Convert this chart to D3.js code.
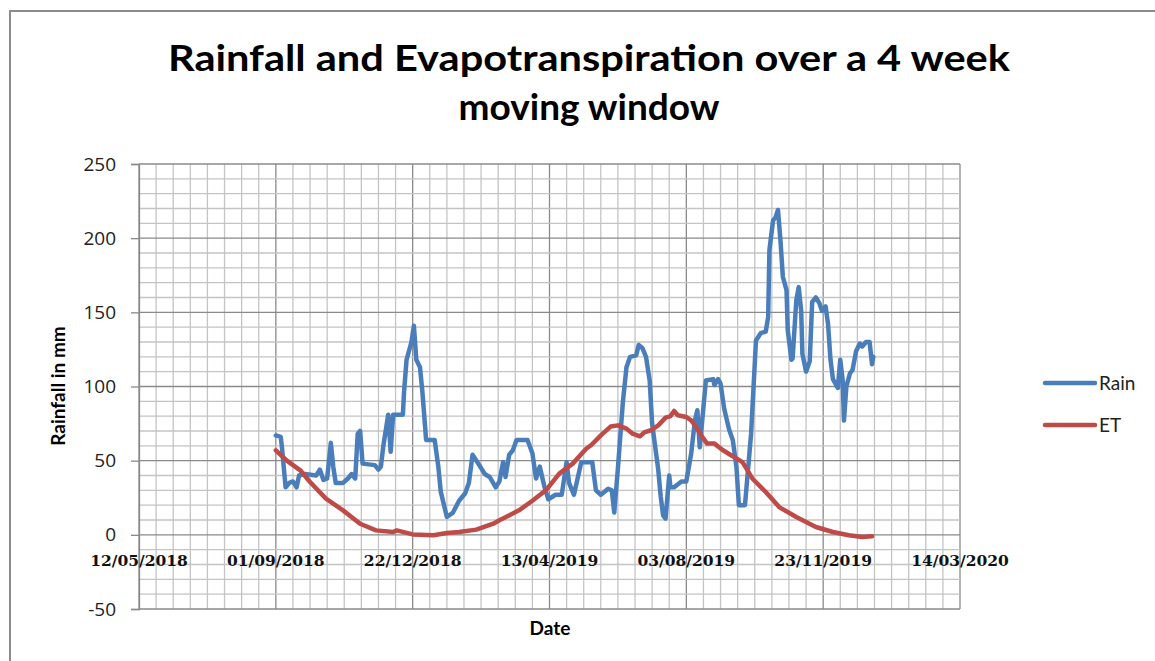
<!DOCTYPE html>
<html>
<head>
<meta charset="utf-8">
<script src="https://cdn.jsdelivr.net/npm/d3@7"></script>
<style>
body { margin: 0; background: #fff; }
text { font-family: Lato, "Open Sans", sans-serif; }
</style>
</head>
<body>
<svg id="chart" width="1155" height="661"></svg>
<script>
// days counted from 12/05/2018
const rainDays = [112, 116, 117, 120, 123, 126, 129, 131, 136, 145, 148, 151, 154, 157, 159, 161, 167, 171, 174, 177,
    179, 181, 183, 193, 196, 198, 200, 204, 206, 208, 216, 217, 219, 223, 225, 227, 230, 232, 235, 242,
    245, 247, 252, 257, 262, 267, 270, 273, 277, 283, 287, 292, 295, 298, 300, 303, 306, 309, 318, 322,
    325, 328, 332, 335, 341, 346, 350, 352, 356, 359, 362, 371, 374, 378, 384, 387, 389, 392, 396, 399,
    402, 407, 409, 412, 415, 418, 420, 425, 427, 429, 431, 434, 435, 438, 444, 448, 452, 455, 457, 459,
    461, 464, 470, 471, 474, 476, 479, 483, 486, 489, 491, 496, 501, 505, 509, 513, 515, 516, 519, 521,
    523, 525, 527, 530, 531, 534, 535, 538, 540, 542, 543, 546, 549, 551, 554, 557, 559, 562, 564, 566,
    568, 572, 574, 576, 577, 579, 582, 584, 587, 590, 592, 595, 598, 600, 601];
const rainValues = [67, 66, 59, 32, 35, 36, 32, 40, 41, 40, 44, 37, 38, 62, 46, 35, 35, 38, 41, 38,
    68, 70, 48, 47, 44, 46, 60, 81, 56, 81, 81, 97, 118, 130, 141, 118, 113, 96, 64, 64,
    46, 29, 12, 15, 23, 28, 35, 54, 49, 41, 39, 32, 36, 49, 39, 54, 57, 64, 64, 55,
    38, 46, 32, 24, 27, 27, 49, 35, 27, 38, 49, 49, 30, 27, 31, 30, 15, 45, 89, 113,
    120, 121, 128, 126, 120, 104, 75, 44, 26, 13, 11, 40, 32, 32, 36, 36, 55, 77, 84, 59,
    77, 104, 105, 101, 105, 102, 85, 71, 64, 46, 20, 20, 68, 131, 136, 137, 147, 192, 212, 214,
    219, 199, 174, 165, 138, 118, 119, 158, 167, 151, 122, 110, 117, 157, 160, 156, 151, 154, 142, 118,
    105, 99, 118, 104, 77, 100, 109, 111, 124, 129, 127, 130, 130, 115, 120];

const etDays = [112, 121, 132, 140, 153, 167, 181, 194, 208, 211, 224, 241, 252, 262, 276, 290, 295, 311, 322, 333,
    344, 355, 366, 370, 378, 386, 392, 399, 404, 410, 414, 419, 425, 431, 435, 438, 441, 448, 452, 456,
    461, 465, 471, 478, 486, 494, 502, 513, 524, 538, 554, 568, 581, 592, 600];
const etValues = [57, 50, 43.5, 35.6, 24.4, 16.5, 7.5, 3, 1.9, 3, 0.3, -0.3, 1.2, 1.9, 3.5, 7.5, 9.8, 16.5, 23, 30,
    41.3, 48, 58, 60.4, 67, 73, 73.8, 71.6, 68.2, 66.4, 69.3, 70.5, 73.8, 79, 80, 83.5, 80.6, 79.4, 77.2, 72.7,
    66, 61.5, 61.5, 57, 53, 49, 38, 28.9, 18.7, 12, 5.3, 1.9, -0.3, -1.5, -1];

const dateTicks = ['12/05/2018', '01/09/2018', '22/12/2018', '13/04/2019', '03/08/2019', '23/11/2019', '14/03/2020'];
const yTicks = [-50, 0, 50, 100, 150, 200, 250];
const seriesNames = ['Rain', 'ET'];
const seriesColors = ['#4a7ebb', '#be4b48'];

const parse = d3.utcParse('%d/%m/%Y');
const start = parse(dateTicks[0]);
const end = parse(dateTicks[dateTicks.length - 1]);

const svg = d3.select('#chart');

// outer frame
svg.append('rect')
    .attr('x', 10).attr('y', 11)
    .attr('width', 1300).attr('height', 800)
    .attr('fill', 'none')
    .attr('stroke', '#8c8c8c')
    .attr('stroke-width', 2);

const xScale = d3.scaleUtc()
    .domain([start, end])
    .range([139, 960]);

const yScale = d3.scaleLinear()
    .domain([-50, 250])
    .range([609, 164]);

// grid
const minorX = d3.range(0, 673, 14).map(d => d3.utcDay.offset(start, d));
const minorY = d3.range(-50, 251, 10);

const grid = svg.append('g');
grid.selectAll('.vminor')
    .data(minorX)
    .join('line')
    .attr('x1', d => xScale(d)).attr('x2', d => xScale(d))
    .attr('y1', yScale(250)).attr('y2', yScale(-50))
    .attr('stroke', d => (d3.utcDay.count(start, d) % 112 == 0) ? '#8a8a8a' : '#c4c4c4')
    .attr('stroke-width', 1.3);

grid.selectAll('.hminor')
    .data(minorY)
    .join('line')
    .attr('x1', xScale(start)).attr('x2', xScale(end))
    .attr('y1', d => yScale(d)).attr('y2', d => yScale(d))
    .attr('stroke', d => (d % 50 == 0) ? '#8a8a8a' : '#c4c4c4')
    .attr('stroke-width', 1.3);

// y axis
const yAxis = svg.append('g')
    .attr('transform', `translate(139,0)`)
    .call(d3.axisLeft(yScale).tickValues(yTicks).tickFormat(d => String(d)).tickSize(8).tickPadding(15));
yAxis.select('.domain').attr('stroke', '#8a8a8a').attr('stroke-width', 1.3);
yAxis.selectAll('.tick line').attr('stroke', '#8a8a8a').attr('stroke-width', 1.3);
yAxis.selectAll('.tick text')
    .attr('fill', '#222')
    .style('font-family', '"Open Sans", sans-serif')
    .style('font-size', '19px');

// date labels sit under the zero line
svg.append('g')
    .selectAll('text')
    .data(dateTicks)
    .join('text')
    .attr('x', d => xScale(parse(d)))
    .attr('y', yScale(0) + 31)
    .attr('text-anchor', 'middle')
    .style('font-family', '"DejaVu Serif", serif')
    .style('font-weight', 'bold')
    .style('font-size', '15.5px')
    .attr('fill', '#111')
    .text(d => d);

// lines
const line = d3.line()
    .x(d => xScale(d3.utcDay.offset(start, d[0])))
    .y(d => yScale(d[1]));

const series = [
    d3.zip(rainDays, rainValues),
    d3.zip(etDays, etValues)
];

svg.append('g')
    .selectAll('path')
    .data(series)
    .join('path')
    .attr('d', line)
    .attr('fill', 'none')
    .attr('stroke', (d, i) => seriesColors[i])
    .attr('stroke-width', 4.5)
    .attr('stroke-linejoin', 'round')
    .attr('stroke-linecap', 'round');

// title
const title = svg.append('g')
    .attr('text-anchor', 'middle')
    .style('font-weight', 'bold')
    .style('font-size', '37px')
    .attr('fill', '#000');
title.append('text')
    .attr('x', 589).attr('y', 71)
    .attr('textLength', 842)
    .attr('lengthAdjust', 'spacingAndGlyphs')
    .text('Rainfall and Evapotranspiration over a 4 week');
title.append('text')
    .attr('x', 589).attr('y', 120)
    .text('moving window');

// axis labels
svg.append('text')
    .attr('transform', 'translate(65,386) rotate(-90)')
    .attr('text-anchor', 'middle')
    .style('font-weight', 'bold')
    .style('font-size', '19px')
    .text('Rainfall in mm');

svg.append('text')
    .attr('x', 550).attr('y', 635)
    .attr('text-anchor', 'middle')
    .style('font-weight', 'bold')
    .style('font-size', '19px')
    .text('Date');

// legend
const legend = svg.append('g')
    .selectAll('g')
    .data(seriesNames)
    .join('g')
    .attr('transform', (d, i) => `translate(1045,${383 + i * 42})`);
legend.append('line')
    .attr('x1', 0).attr('x2', 50)
    .attr('stroke', (d, i) => seriesColors[i])
    .attr('stroke-width', 4.5)
    .attr('stroke-linecap', 'round');
legend.append('text')
    .attr('x', 54).attr('y', 7)
    .style('font-size', '19px')
    .attr('fill', '#222')
    .text(d => d);
</script>
</body>
</html>
